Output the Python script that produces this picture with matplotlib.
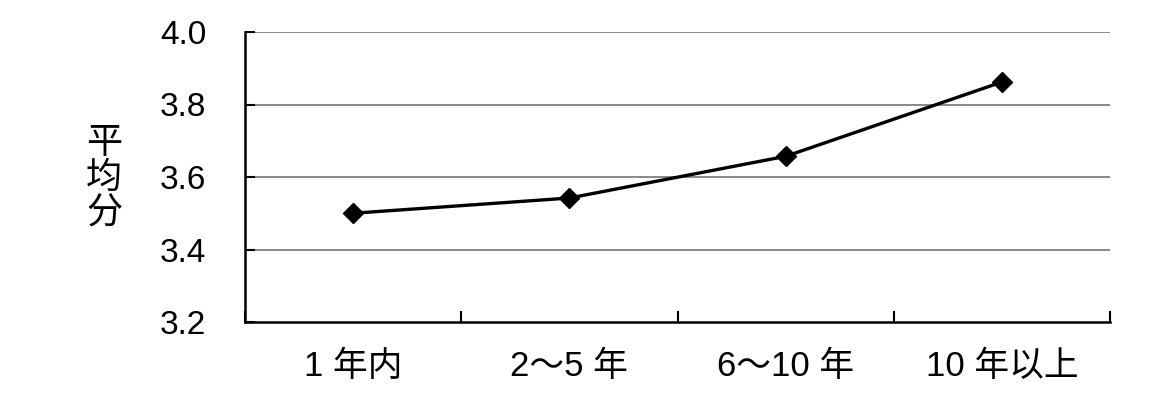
import matplotlib
matplotlib.use("Agg")
import matplotlib.pyplot as plt
from matplotlib import font_manager

categories = ["1 年内", "2～5 年", "6～10 年", "10 年以上"]
values = [3.50, 3.542, 3.657, 3.862]
yticks = [3.2, 3.4, 3.6, 3.8, 4.0]
ylabel = "平\n均\n分"

names = {f.name for f in font_manager.fontManager.ttflist}
latin = "Liberation Sans Narrow" if "Liberation Sans Narrow" in names else "Liberation Sans"
fam = [latin, "Noto Sans CJK SC", "DejaVu Sans"]
plt.rcParams["font.family"] = fam

fig = plt.figure(figsize=(11.74, 4.07), dpi=100)
ax = fig.add_axes([245/1174, 85/407, 865/1174, 290/407])

x = list(range(len(categories)))
ax.plot(x, values, color="black", lw=2.4, marker="D", ms=10, zorder=3)

ax.set_xlim(-0.5, len(categories) - 0.5)
ax.set_ylim(3.2, 4.0)
ax.set_yticks(yticks)
ax.set_yticklabels([f"{v:.1f}" for v in yticks], fontsize=24)
for lab in ax.get_yticklabels():
    lab.set_va("center_baseline")
for v in yticks[1:]:
    ax.axhline(v, color="#808080", lw=1.3, zorder=1)

ax.set_xticks(x)
ax.set_xticklabels(categories, fontsize=25)
ax.set_xticks([i - 0.5 for i in range(len(categories) + 1)], minor=True)
ax.tick_params(axis="x", which="major", length=0, pad=20)
ax.tick_params(axis="x", which="minor", direction="in", length=8, width=1.5)
ax.tick_params(axis="y", direction="in", length=7, width=1.5, pad=28)

for s in ["top", "right"]:
    ax.spines[s].set_visible(False)
for s in ["left", "bottom"]:
    ax.spines[s].set_linewidth(1.8)

fig.text(104/1174, 1 - 178/407, ylabel, fontsize=26, ha="center", va="center",
         linespacing=0.98, family=["Noto Sans CJK SC", "DejaVu Sans"])

fig.savefig("out.png", dpi=100)
